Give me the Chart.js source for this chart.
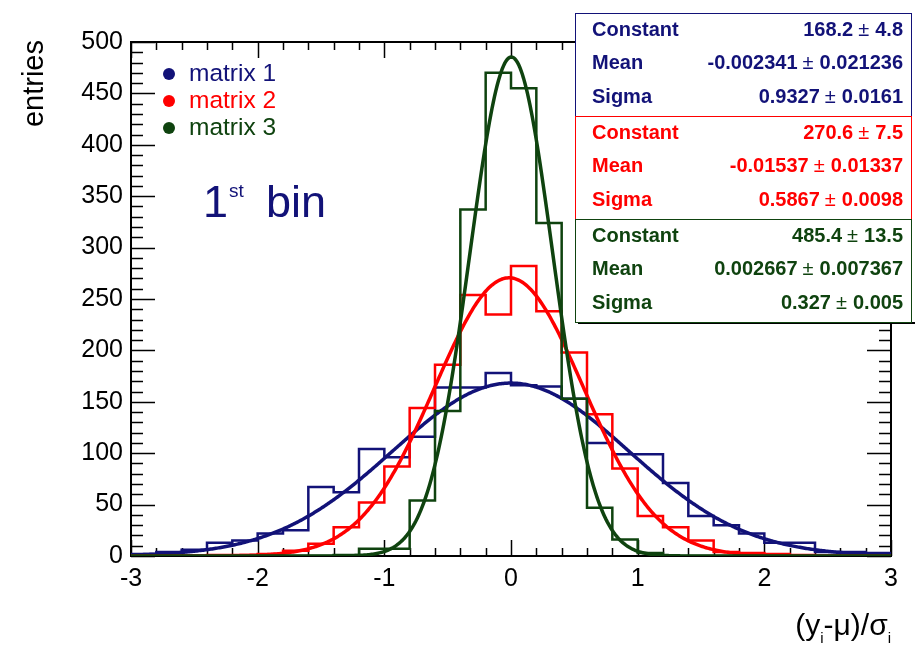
<!DOCTYPE html>
<html>
<head>
<meta charset="utf-8">
<script src="https://cdn.jsdelivr.net/npm/chart.js@4/dist/chart.umd.min.js"></script>
<style>
html,body{margin:0;padding:0;background:#ffffff;}
canvas{display:block;}
</style>
</head>
<body>
<canvas id="c" width="917" height="646"></canvas>
<script>
// ---------------- data ----------------
const binLow = [-3.0,-2.8,-2.6,-2.4,-2.2,-2.0,-1.8,-1.6,-1.4,-1.2,-1.0,-0.8,-0.6,-0.4,-0.2,
                 0.0, 0.2, 0.4, 0.6, 0.8, 1.0, 1.2, 1.4, 1.6, 1.8, 2.0, 2.2, 2.4, 2.6, 2.8];
const binHighEdge = 3.0;
const matrix1 = [2,4,6,13,15,22,25,67,62,104,96,116,164,164,178,
                 166,165,153,110,99,99,71,39,30,22,13,13,4,4,3];
const matrix2 = [0,0,0,1,1,2,5,12,28,52,87,144,186,254,235,
                 282,238,198,138,85,39,28,15,4,3,2,1,0,0,0];
const matrix3 = [0,0,0,0,0,0,0,0,1,7,7,54,141,337,470,
                 455,324,153,47,16,3,0,0,0,0,0,0,0,0,0];
const seriesNames = ['matrix 1','matrix 2','matrix 3'];
const fitConstant = [168.2, 270.6, 485.4];
const fitConstantErr = [4.8, 7.5, 13.5];
const fitMean = [-0.002341, -0.01537, 0.002667];
const fitMeanErr = [0.021236, 0.01337, 0.007367];
const fitSigma = [0.9327, 0.5867, 0.327];
const fitSigmaErr = [0.0161, 0.0098, 0.005];
const xTickValues = [-3,-2,-1,0,1,2,3];
const yTickValues = [0,50,100,150,200,250,300,350,400,450,500];
const xTitleParts = ['(y','i','-\u03bc)/\u03c3','i'];
const yTitle = 'entries';
const binLabel = ['1','st','bin'];

// ---------------- style ----------------
const colors = ['#121278', '#ff0000', '#0f430f'];
const FONT = '"Liberation Sans", Arial, Helvetica, sans-serif';

function histPoints(vals) {
  const pts = binLow.map((x, i) => ({x: x, y: vals[i]}));
  pts.push({x: binHighEdge, y: vals[vals.length - 1]});
  return pts;
}
function fitPoints(k) {
  const pts = [];
  for (let i = 0; i <= 600; i++) {
    const x = -3 + i * 0.01;
    const z = (x - fitMean[k]) / fitSigma[k];
    pts.push({x: x, y: fitConstant[k] * Math.exp(-0.5 * z * z)});
  }
  return pts;
}
const histVals = [matrix1, matrix2, matrix3];
const datasets = [];
for (let k = 0; k < 3; k++) {
  datasets.push({
    label: seriesNames[k], data: histPoints(histVals[k]), stepped: true,
    borderColor: colors[k], borderWidth: 2.5, pointRadius: 0, fill: false,
    order: 10 - 2 * k
  });
  datasets.push({
    label: seriesNames[k] + ' fit', data: fitPoints(k),
    borderColor: colors[k], borderWidth: 3.5, pointRadius: 0, fill: false,
    tension: 0, order: 9 - 2 * k
  });
}

const decorPlugin = {
  id: 'decor',
  beforeDatasetsDraw(chart) {
    const ctx = chart.ctx;
    const xs = chart.scales.x, ys = chart.scales.y;
    const a = chart.chartArea;
    ctx.save();
    ctx.strokeStyle = '#000';
    ctx.lineWidth = 1.5;
    for (let v = 0; v <= 500; v += 10) {
      const py = Math.round(ys.getPixelForValue(v)) + 0.5;
      const len = (v % 50 === 0) ? 24 : 12;
      ctx.beginPath();
      ctx.moveTo(a.left, py); ctx.lineTo(a.left + len, py);
      ctx.moveTo(a.right, py); ctx.lineTo(a.right - len, py);
      ctx.stroke();
    }
    for (let i = 0; i <= 30; i++) {
      const v = -3 + i * 0.2;
      const px = Math.round(xs.getPixelForValue(v)) + 0.5;
      const len = (i % 5 === 0) ? 16 : 8;
      ctx.beginPath();
      ctx.moveTo(px, a.bottom); ctx.lineTo(px, a.bottom - len);
      ctx.moveTo(px, a.top); ctx.lineTo(px, a.top + len);
      ctx.stroke();
    }
    ctx.lineWidth = 2;
    ctx.strokeRect(a.left, a.top, a.right - a.left, a.bottom - a.top);
    ctx.restore();
  },
  afterDraw(chart) {
    const ctx = chart.ctx;
    const a = chart.chartArea;
    ctx.save();
    ctx.fillStyle = '#000';
    ctx.font = '29px ' + FONT;
    ctx.translate(35, a.top - 2);
    ctx.rotate(-Math.PI / 2);
    ctx.textAlign = 'right';
    ctx.textBaseline = 'middle';
    ctx.fillText(yTitle, 0, 0);
    ctx.restore();

    ctx.save();
    ctx.fillStyle = '#000';
    ctx.textBaseline = 'alphabetic';
    ctx.textAlign = 'left';
    const mainF = '30px ' + FONT, subF = '15px ' + FONT;
    const widths = xTitleParts.map((t, i) => { ctx.font = (i % 2) ? subF : mainF; return ctx.measureText(t).width; });
    let tx = a.right - widths.reduce((s, w) => s + w, 0);
    const ty = 635;
    xTitleParts.forEach((t, i) => {
      ctx.font = (i % 2) ? subF : mainF;
      ctx.fillText(t, tx, (i % 2) ? ty + 8 : ty);
      tx += widths[i];
    });
    ctx.restore();

    ctx.save();
    ctx.font = '24.5px ' + FONT;
    ctx.textBaseline = 'middle';
    ctx.textAlign = 'left';
    for (let k = 0; k < 3; k++) {
      const ly = 74 + k * 27;
      ctx.fillStyle = colors[k];
      ctx.beginPath(); ctx.arc(169, ly, 6, 0, Math.PI * 2); ctx.fill();
      ctx.fillText(seriesNames[k], 189, ly);
    }
    ctx.restore();

    ctx.save();
    ctx.fillStyle = colors[0];
    ctx.textBaseline = 'alphabetic';
    ctx.textAlign = 'left';
    ctx.font = '45px ' + FONT;
    ctx.fillText(binLabel[0], 203, 217);
    ctx.font = '19px ' + FONT;
    ctx.fillText(binLabel[1], 229, 197);
    ctx.font = '45px ' + FONT;
    ctx.fillText(binLabel[2], 266, 217);
    ctx.restore();

    ctx.save();
    const boxL = 575, boxR = 912;
    const boxTops = [13, 116, 219];
    const boxH = 103;
    ctx.fillStyle = '#000';
    ctx.fillRect(boxL + 3, boxTops[2] + boxH, boxR - boxL, 2);
    for (let k = 0; k < 3; k++) {
      ctx.fillStyle = '#fff';
      ctx.fillRect(boxL, boxTops[k], boxR - boxL, boxH);
      ctx.strokeStyle = colors[k];
      ctx.lineWidth = 1;
      ctx.strokeRect(boxL + 0.5, boxTops[k] + 0.5, boxR - boxL - 1, boxH);
    }
    const names = ['Constant', 'Mean', 'Sigma'];
    const bF = 'bold 20px ' + FONT, nF = '20px ' + FONT;
    for (let k = 0; k < 3; k++) {
      const vals = [[fitConstant[k], fitConstantErr[k]], [fitMean[k], fitMeanErr[k]], [fitSigma[k], fitSigmaErr[k]]];
      for (let r = 0; r < 3; r++) {
        const cy = boxTops[k] + 17 + r * 33.5;
        ctx.fillStyle = colors[k];
        ctx.textBaseline = 'middle';
        ctx.font = bF;
        ctx.textAlign = 'left';
        ctx.fillText(names[r], 592, cy);
        ctx.textAlign = 'right';
        let rx = 903;
        ctx.fillText(String(vals[r][1]), rx, cy);
        rx -= ctx.measureText(String(vals[r][1])).width + 6;
        ctx.font = nF;
        ctx.fillText('\u00b1', rx, cy);
        rx -= ctx.measureText('\u00b1').width + 5;
        ctx.font = bF;
        ctx.fillText(String(vals[r][0]), rx, cy);
      }
    }
    ctx.restore();
  }
};

new Chart(document.getElementById('c'), {
  type: 'line',
  data: { datasets: datasets },
  options: {
    responsive: false,
    animation: false,
    events: [],
    layout: { padding: { left: 0, right: 26, top: 42, bottom: 0 } },
    plugins: { legend: { display: false }, tooltip: { enabled: false }, title: { display: false } },
    scales: {
      x: {
        type: 'linear', min: -3, max: 3,
        afterFit(s) { s.height = 90; },
        afterBuildTicks(s) { s.ticks = xTickValues.map(v => ({value: v})); },
        grid: { display: false, drawTicks: false },
        border: { display: false },
        ticks: { autoSkip: false, maxRotation: 0, padding: 8, color: '#000',
                 font: { family: FONT, size: 25 } }
      },
      y: {
        type: 'linear', min: 0, max: 500,
        afterFit(s) { s.width = 131; },
        afterBuildTicks(s) { s.ticks = yTickValues.map(v => ({value: v})); },
        grid: { display: false, drawTicks: false },
        border: { display: false },
        ticks: { autoSkip: false, padding: 8, color: '#000',
                 font: { family: FONT, size: 25 } }
      }
    }
  },
  plugins: [decorPlugin]
});
</script>
</body>
</html>
